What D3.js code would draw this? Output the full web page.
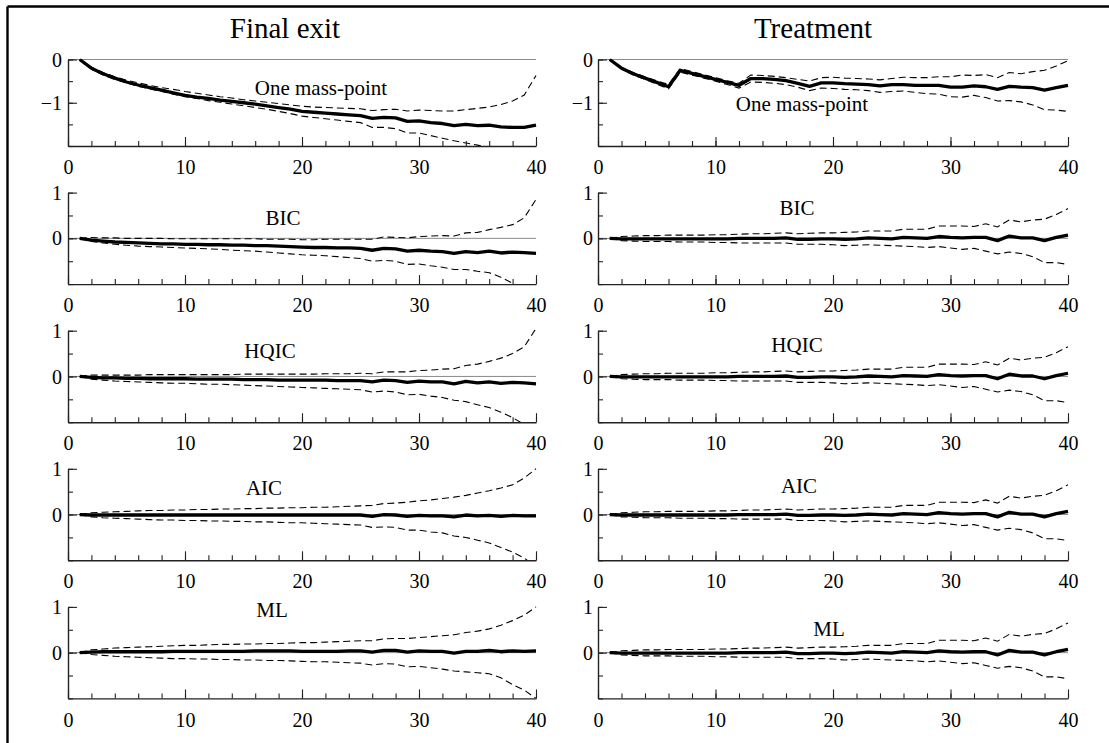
<!DOCTYPE html>
<html lang="en">
  <head>
    <meta charset="UTF-8" />
    <title>Final exit / Treatment</title>
    <script src="https://cdn.jsdelivr.net/npm/d3@7"></script>
    <style>
      body {
        margin: 0;
        padding: 0;
        background: #fff;
      }
      svg {
        display: block;
        font-family: "Liberation Serif", "Times New Roman", serif;
      }
    </style>
  </head>
  <body>
    <svg id="chart"></svg>
    <script>
      // horizon 1..40
      const steps = d3.range(1, 41);
      const xTicks = [0, 10, 20, 30, 40];

      // Final exit, one mass-point
      const feOneMid = [0, -0.2, -0.33, -0.43, -0.52, -0.59, -0.65, -0.71, -0.77, -0.83, -0.87, -0.9, -0.94, -0.97, -1.0, -1.03, -1.07, -1.11, -1.15, -1.2, -1.22, -1.24, -1.26, -1.28, -1.3, -1.36, -1.34, -1.35, -1.43, -1.42, -1.46, -1.48, -1.53, -1.5, -1.53, -1.52, -1.56, -1.57, -1.57, -1.52];
      const feOneHi = [0, -0.18, -0.3, -0.4, -0.48, -0.54, -0.6, -0.65, -0.69, -0.74, -0.78, -0.82, -0.86, -0.89, -0.93, -0.96, -0.99, -1.02, -1.05, -1.08, -1.1, -1.11, -1.12, -1.13, -1.14, -1.18, -1.16, -1.15, -1.19, -1.17, -1.18, -1.19, -1.19, -1.16, -1.13, -1.1, -1.04, -0.96, -0.82, -0.37];
      const feOneLo = [0, -0.22, -0.36, -0.46, -0.54, -0.62, -0.68, -0.74, -0.8, -0.86, -0.9, -0.95, -0.99, -1.03, -1.07, -1.11, -1.15, -1.2, -1.25, -1.31, -1.34, -1.37, -1.4, -1.43, -1.46, -1.57, -1.57, -1.6, -1.7, -1.7, -1.76, -1.82, -1.88, -1.93, -1.98, -2.04, -2.12, -2.25, -2.45, -2.8];

      // Treatment, one mass-point
      const trOneMid = [0, -0.2, -0.33, -0.43, -0.53, -0.63, -0.25, -0.32, -0.39, -0.46, -0.53, -0.6, -0.44, -0.44, -0.46, -0.49, -0.55, -0.62, -0.54, -0.54, -0.56, -0.57, -0.58, -0.61, -0.58, -0.58, -0.6, -0.6, -0.6, -0.64, -0.64, -0.61, -0.63, -0.69, -0.62, -0.64, -0.65, -0.71, -0.65, -0.6];
      const trOneHi = [0, -0.18, -0.3, -0.4, -0.49, -0.58, -0.21, -0.28, -0.35, -0.42, -0.49, -0.55, -0.36, -0.37, -0.39, -0.42, -0.46, -0.5, -0.42, -0.41, -0.43, -0.44, -0.45, -0.47, -0.44, -0.41, -0.42, -0.42, -0.4, -0.4, -0.36, -0.37, -0.35, -0.42, -0.3, -0.33, -0.28, -0.25, -0.15, -0.03];
      const trOneLo = [0, -0.22, -0.36, -0.46, -0.57, -0.68, -0.29, -0.36, -0.43, -0.5, -0.58, -0.66, -0.52, -0.53, -0.55, -0.58, -0.64, -0.72, -0.66, -0.67, -0.69, -0.7, -0.72, -0.76, -0.74, -0.73, -0.76, -0.79, -0.8, -0.86, -0.87, -0.83, -0.88, -0.96, -0.95, -0.98, -1.05, -1.16, -1.17, -1.2];

      // Final exit, BIC
      const feBicMid = [0, -0.04, -0.06, -0.08, -0.09, -0.1, -0.11, -0.12, -0.12, -0.13, -0.13, -0.14, -0.14, -0.15, -0.15, -0.16, -0.16, -0.17, -0.18, -0.19, -0.2, -0.2, -0.21, -0.21, -0.22, -0.26, -0.22, -0.23, -0.28, -0.26, -0.28, -0.29, -0.33, -0.29, -0.31, -0.28, -0.32, -0.3, -0.31, -0.33];
      const feBicHi = [0, 0.02, 0.01, 0.01, 0, 0, 0, 0, -0.01, -0.01, -0.01, -0.01, -0.01, -0.01, -0.01, -0.01, -0.02, -0.02, -0.02, -0.03, -0.03, -0.02, -0.02, -0.02, -0.02, -0.02, 0.03, 0.02, 0.01, 0.04, 0.05, 0.06, 0.05, 0.12, 0.13, 0.19, 0.24, 0.3, 0.45, 0.85];
      const feBicLo = [0, -0.07, -0.1, -0.13, -0.15, -0.17, -0.18, -0.19, -0.2, -0.21, -0.22, -0.23, -0.24, -0.26, -0.27, -0.28, -0.3, -0.32, -0.34, -0.36, -0.37, -0.38, -0.4, -0.42, -0.44, -0.5, -0.48, -0.5, -0.57, -0.56, -0.6, -0.63, -0.68, -0.68, -0.72, -0.75, -0.85, -0.98, -1.1, -1.25];

      // Final exit, HQIC
      const feHqMid = [0, -0.02, -0.03, -0.03, -0.04, -0.04, -0.05, -0.05, -0.05, -0.05, -0.06, -0.06, -0.06, -0.06, -0.07, -0.07, -0.07, -0.08, -0.08, -0.08, -0.08, -0.08, -0.09, -0.09, -0.09, -0.12, -0.08, -0.09, -0.13, -0.1, -0.12, -0.12, -0.16, -0.11, -0.14, -0.12, -0.15, -0.13, -0.14, -0.16];
      const feHqHi = [0, 0.03, 0.03, 0.03, 0.03, 0.03, 0.04, 0.04, 0.04, 0.04, 0.04, 0.04, 0.04, 0.04, 0.05, 0.05, 0.05, 0.05, 0.05, 0.05, 0.05, 0.06, 0.06, 0.06, 0.07, 0.06, 0.1, 0.1, 0.1, 0.13, 0.14, 0.16, 0.17, 0.24, 0.27, 0.33, 0.4, 0.5, 0.65, 1.05];
      const feHqLo = [0, -0.06, -0.08, -0.1, -0.11, -0.12, -0.13, -0.14, -0.15, -0.15, -0.16, -0.17, -0.17, -0.18, -0.19, -0.2, -0.21, -0.22, -0.23, -0.24, -0.25, -0.26, -0.27, -0.28, -0.29, -0.34, -0.32, -0.34, -0.4, -0.39, -0.43, -0.46, -0.52, -0.55, -0.62, -0.68, -0.78, -0.9, -1.05, -1.3];

      // Final exit, AIC
      const feAicMid = [0, -0.01, -0.01, -0.01, -0.01, -0.01, -0.01, -0.01, -0.01, -0.01, -0.01, -0.01, -0.01, -0.01, -0.01, -0.01, -0.01, -0.01, -0.01, -0.01, -0.01, -0.01, -0.01, -0.01, -0.01, -0.04, 0, -0.01, -0.04, -0.02, -0.03, -0.03, -0.05, -0.01, -0.03, -0.02, -0.04, -0.02, -0.03, -0.03];
      const feAicHi = [0, 0.04, 0.05, 0.06, 0.07, 0.08, 0.09, 0.09, 0.1, 0.1, 0.11, 0.11, 0.12, 0.12, 0.13, 0.13, 0.14, 0.14, 0.15, 0.15, 0.16, 0.16, 0.17, 0.18, 0.19, 0.2, 0.24, 0.25, 0.27, 0.3, 0.32, 0.35, 0.38, 0.42, 0.47, 0.52, 0.58, 0.65, 0.8, 1.0];
      const feAicLo = [0, -0.05, -0.07, -0.08, -0.09, -0.1, -0.11, -0.12, -0.12, -0.13, -0.13, -0.14, -0.14, -0.15, -0.15, -0.16, -0.16, -0.17, -0.18, -0.18, -0.19, -0.2, -0.21, -0.22, -0.23, -0.28, -0.27, -0.28, -0.34, -0.34, -0.38, -0.4, -0.47, -0.5, -0.56, -0.62, -0.72, -0.82, -0.95, -1.15];

      // Final exit, ML
      const feMlMid = [0, 0.01, 0.02, 0.02, 0.02, 0.02, 0.02, 0.02, 0.03, 0.03, 0.03, 0.03, 0.03, 0.03, 0.03, 0.04, 0.04, 0.04, 0.04, 0.03, 0.03, 0.03, 0.03, 0.04, 0.04, 0.01, 0.05, 0.05, 0.01, 0.04, 0.03, 0.03, -0.01, 0.03, 0.03, 0.05, 0.02, 0.04, 0.03, 0.04];
      const feMlHi = [0, 0.06, 0.08, 0.1, 0.11, 0.12, 0.13, 0.14, 0.15, 0.16, 0.16, 0.17, 0.18, 0.18, 0.19, 0.19, 0.2, 0.2, 0.21, 0.22, 0.22, 0.23, 0.24, 0.25, 0.26, 0.26, 0.3, 0.31, 0.31, 0.33, 0.35, 0.37, 0.39, 0.44, 0.47, 0.52, 0.6, 0.7, 0.82, 1.0];
      const feMlLo = [0, -0.04, -0.06, -0.08, -0.09, -0.1, -0.11, -0.12, -0.13, -0.13, -0.14, -0.14, -0.15, -0.15, -0.16, -0.16, -0.17, -0.17, -0.18, -0.19, -0.2, -0.2, -0.21, -0.22, -0.23, -0.27, -0.24, -0.25, -0.31, -0.3, -0.33, -0.36, -0.4, -0.42, -0.44, -0.46, -0.55, -0.7, -0.82, -1.0];

      // Treatment: BIC, HQIC, AIC and ML all give the same picture
      const trSelMid = [0, -0.01, -0.01, -0.01, -0.01, -0.01, -0.01, -0.01, -0.01, -0.01, -0.01, 0, 0, 0, 0, 0.01, -0.02, -0.02, -0.01, -0.01, -0.02, -0.01, 0.01, 0, -0.01, 0.02, 0.01, 0, 0.04, 0.02, 0.01, 0.02, 0.02, -0.05, 0.05, 0.01, 0.01, -0.05, 0.02, 0.07];
      const trSelHi = [0, 0.04, 0.05, 0.06, 0.06, 0.07, 0.07, 0.07, 0.07, 0.08, 0.08, 0.09, 0.1, 0.1, 0.11, 0.12, 0.1, 0.11, 0.12, 0.12, 0.13, 0.14, 0.16, 0.16, 0.16, 0.2, 0.2, 0.2, 0.27, 0.27, 0.27, 0.26, 0.32, 0.25, 0.4, 0.36, 0.4, 0.42, 0.52, 0.65];
      const trSelLo = [0, -0.05, -0.06, -0.07, -0.07, -0.07, -0.08, -0.08, -0.08, -0.09, -0.09, -0.1, -0.1, -0.1, -0.1, -0.1, -0.13, -0.13, -0.13, -0.14, -0.16, -0.15, -0.14, -0.15, -0.16, -0.17, -0.18, -0.2, -0.18, -0.21, -0.24, -0.22, -0.28, -0.34, -0.3, -0.33, -0.4, -0.53, -0.53, -0.57];

      const columnTitles = ["Final exit", "Treatment"];
      const panelNames = ["One mass-point", "BIC", "HQIC", "AIC", "ML"];

      const panels = [
        { row: 0, col: 0, mid: feOneMid, hi: feOneHi, lo: feOneLo },
        { row: 0, col: 1, mid: trOneMid, hi: trOneHi, lo: trOneLo },
        { row: 1, col: 0, mid: feBicMid, hi: feBicHi, lo: feBicLo },
        { row: 1, col: 1, mid: trSelMid, hi: trSelHi, lo: trSelLo },
        { row: 2, col: 0, mid: feHqMid, hi: feHqHi, lo: feHqLo },
        { row: 2, col: 1, mid: trSelMid, hi: trSelHi, lo: trSelLo },
        { row: 3, col: 0, mid: feAicMid, hi: feAicHi, lo: feAicLo },
        { row: 3, col: 1, mid: trSelMid, hi: trSelHi, lo: trSelLo },
        { row: 4, col: 0, mid: feMlMid, hi: feMlHi, lo: feMlLo },
        { row: 4, col: 1, mid: trSelMid, hi: trSelHi, lo: trSelLo },
      ];

      // layout (pixels)
      const width = 1109;
      const height = 743;
      const cols = [
        { x0: 68, x1: 536, title: 285 },
        { x0: 598, x1: 1068, title: 813 },
      ];
      // name label spot: [x centre, baseline] per row, per column
      const labelPos = [
        [[321, 95], [802, 111]],
        [[283, 225], [797, 215]],
        [[270, 358], [797, 352]],
        [[264, 495], [799, 493]],
        [[272, 617], [829, 636]],
      ];

      const svg = d3.select("#chart").attr("width", width).attr("height", height);

      // frame (only top and left edges are inside the picture)
      svg.append("line").attr("x1", 7.5).attr("x2", width).attr("y1", 6.5).attr("y2", 6.5)
        .attr("stroke", "#000").attr("stroke-width", 2.4);
      svg.append("line").attr("x1", 7.5).attr("x2", 7.5).attr("y1", 6.5).attr("y2", height)
        .attr("stroke", "#000").attr("stroke-width", 2.4);

      columnTitles.forEach((t, i) => {
        svg.append("text")
          .attr("x", cols[i].title)
          .attr("y", 38)
          .attr("text-anchor", "middle")
          .attr("font-size", "29px")
          .attr("fill", "#000")
          .text(t);
      });

      panels.forEach((p, k) => {
        const c = cols[p.col];
        const bottom = 146 + 138.1 * p.row;
        const top = p.row == 0 ? 59.5 : bottom - 91.5;
        const domainY = p.row == 0 ? [-2, 0] : [-1, 1];

        const x = d3.scaleLinear().domain([0, 40]).range([c.x0, c.x1]);
        const y = d3.scaleLinear().domain(domainY).range([bottom, top]);

        const g = svg.append("g").attr("class", "panel");

        const clipId = "clip" + k;
        svg.append("clipPath").attr("id", clipId)
          .append("rect")
          .attr("x", c.x0).attr("y", top - 1)
          .attr("width", c.x1 - c.x0 + 1).attr("height", bottom - top + 1);

        // zero reference line
        g.append("line")
          .attr("x1", x(0)).attr("x2", x(40))
          .attr("y1", y(0)).attr("y2", y(0))
          .attr("stroke", "#8a8a8a").attr("stroke-width", 1);

        const line = d3.line()
          .x((d, i) => x(steps[i]))
          .y((d) => y(d));

        const lines = g.append("g").attr("clip-path", `url(#${clipId})`);
        [p.hi, p.lo].forEach((band) => {
          lines.append("path")
            .datum(band)
            .attr("d", line)
            .attr("fill", "none")
            .attr("stroke", "#000")
            .attr("stroke-width", 1.1)
            .attr("stroke-dasharray", "7,4");
        });
        lines.append("path")
          .datum(p.mid)
          .attr("d", line)
          .attr("fill", "none")
          .attr("stroke", "#000")
          .attr("stroke-width", 3.3)
          .attr("stroke-linejoin", "round");

        // x axis: minor ticks every 2, major every 10
        g.append("g")
          .attr("transform", `translate(0,${bottom})`)
          .call(d3.axisBottom(x).tickValues(d3.range(0, 41, 2)).tickSize(-5).tickFormat(""))
          .call((a) => a.select(".domain").remove());
        const xa = g.append("g")
          .attr("transform", `translate(0,${bottom})`)
          .call(d3.axisBottom(x).tickValues(xTicks).tickSize(-9).tickSizeOuter(0).tickPadding(14).tickFormat(d3.format("d")));

        // y axis: ticks every 0.5, integers longer
        const yMinor = d3.range(domainY[0], domainY[1] + 0.01, 0.5);
        const yMajor = d3.range(domainY[0] + 1, domainY[1] + 0.01, 1);
        g.append("g")
          .attr("transform", `translate(${c.x0},0)`)
          .call(d3.axisLeft(y).tickValues(yMinor).tickSize(-5).tickFormat(""))
          .call((a) => a.select(".domain").remove());
        const ya = g.append("g")
          .attr("transform", `translate(${c.x0},0)`)
          .call(d3.axisLeft(y).tickValues(yMajor).tickSize(-9).tickSizeOuter(0).tickPadding(p.col == 0 ? 6 : 5).tickFormat(d3.format("d")));

        [xa, ya].forEach((a) => {
          a.selectAll("text")
            .attr("font-family", "Liberation Serif, Times New Roman, serif")
            .attr("font-size", "20px")
            .attr("fill", "#000");
        });
        ya.selectAll("text").attr("dy", "0.33em");
        g.selectAll(".tick line").attr("stroke", "#222").attr("stroke-width", 1.1);
        g.selectAll(".domain").attr("stroke", "#222").attr("stroke-width", 1.4);

        const lp = labelPos[p.row][p.col];
        g.append("text")
          .attr("x", lp[0])
          .attr("y", lp[1])
          .attr("text-anchor", "middle")
          .attr("font-size", "21px")
          .attr("fill", "#000")
          .text(panelNames[p.row]);
      });
    </script>
  </body>
</html>
